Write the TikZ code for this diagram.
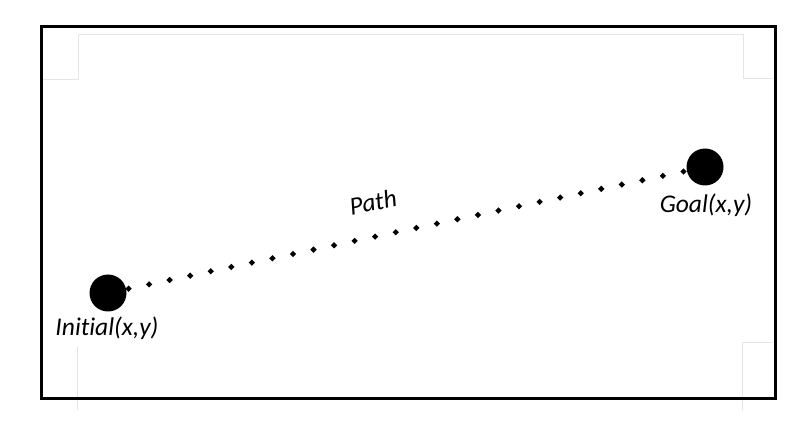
\documentclass[tikz,border=0pt]{standalone}
\usepackage{fontspec}
\setmainfont{Carlito}[Ligatures={NoCommon}]
\usetikzlibrary{calc,shapes.geometric}
\begin{document}
\begin{tikzpicture}[x=1pt,y=-1pt,
  frame/.style={line width=3pt,draw=black},
  margin/.style={draw=black!10,line width=0.8pt},
  endpoint/.style={circle,fill=black,minimum size=37pt,inner sep=0pt},
  dot/.style={diamond,fill=black,minimum size=6.5pt,inner sep=0pt},
  lbl/.style={font=\itshape\fontsize{25.5}{29}\selectfont,inner sep=0pt}]
\useasboundingbox (0,0) rectangle (812,422);
\draw[margin] (42,79) -- (78,79) -- (78,34) -- (743,34) -- (743,78) -- (773,78);
\draw[margin] (77,347) -- (77,410);
\draw[margin] (742,410) -- (742,342) -- (773,342);
\draw[frame] (41,27) rectangle (775,398);
\node[endpoint] (init) at (108,293) {};
\node[endpoint] (goal) at (705,167) {};
\coordinate (s) at ($(init)!21pt!(goal)$);
\coordinate (e) at ($(goal)!22pt!(init)$);
\foreach \i in {0,...,27}
  \node[dot] (d\i) at ($(s)!\i/27!(e)$) {};
\node[lbl] (linit) at (107,328) {Initial(x,y)};
\node[lbl] (lgoal) at (706,205) {Goal(x,y)};
\node[lbl,rotate=11] (lpath) at (373,202) {Path};
\end{tikzpicture}
\end{document}
